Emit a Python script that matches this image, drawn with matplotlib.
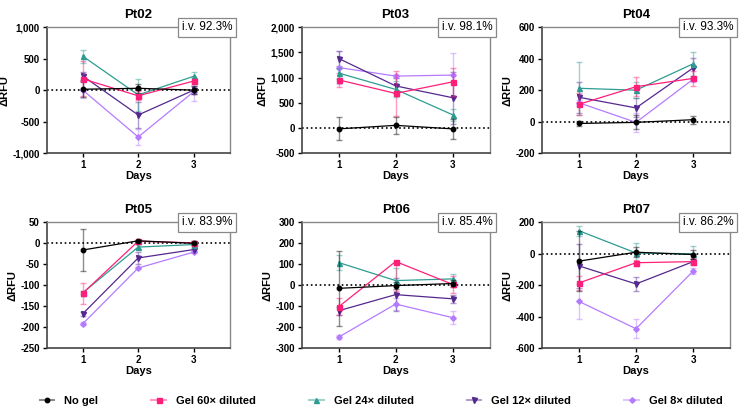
import matplotlib.pyplot as plt
from matplotlib.lines import Line2D
from matplotlib.colors import to_rgba
from matplotlib.ticker import FuncFormatter

plt.rcParams['font.family'] = ['Liberation Sans', 'DejaVu Sans']

days = [1, 2, 3]
series = ["No gel", "Gel 60× diluted", "Gel 24× diluted", "Gel 12× diluted", "Gel 8× diluted"]
colors = ["#000000", "#FF1F78", "#2E9C92", "#55288F", "#B57BFF"]
markers = ["o", "s", "^", "v", "D"]
msizes = [3.2, 3.6, 3.6, 3.6, 2.8]

panels = ["Pt02", "Pt03", "Pt04", "Pt05", "Pt06", "Pt07"]
iv_labels = ["i.v. 92.3%", "i.v. 98.1%", "i.v. 93.3%", "i.v. 83.9%", "i.v. 85.4%", "i.v. 86.2%"]

# mean values, one row per series (No gel, 60x, 24x, 12x, 8x)
pt02 = [[15, 30, 0], [180, -90, 145], [540, -75, 220], [225, -395, 0], [0, -745, -25]]
pt02_err = [[130, 70, 60], [280, 70, 50], [100, 250, 70], [60, 200, 60], [130, 130, 150]]
pt03 = [[-20, 50, -20], [955, 685, 915], [1090, 765, 260], [1380, 835, 600], [1200, 1030, 1050]]
pt03_err = [[230, 170, 200], [140, 450, 280], [110, 160, 120], [150, 150, 520], [330, 40, 440]]
pt04 = [[-12, -5, 12], [110, 222, 275], [212, 200, 368], [155, 87, 342], [120, -5, 270]]
pt04_err = [[15, 45, 25], [70, 60, 50], [170, 50, 75], [100, 60, 65], [20, 60, 20]]
pt05 = [[-16, 6, 0], [-119, 5, 1], [-118, -9, -3], [-168, -35, -15], [-192, -59, -21]]
pt05_err = [[51, 3, 5], [25, 3, 4], [4, 4, 3], [5, 15, 3], [4, 3, 3]]
pt06 = [[-15, -2, 8], [-103, 113, 4], [108, 22, 30], [-122, -45, -65], [-248, -90, -155]]
pt06_err = [[180, 15, 15], [40, 140, 40], [35, 60, 25], [20, 80, 20], [8, 30, 30]]
pt07 = [[-47, 10, -5], [-186, -57, -50], [147, 5, 0], [-77, -192, -50], [-303, -477, -110]]
pt07_err = [[190, 30, 30], [45, 20, 20], [32, 65, 50], [140, 45, 15], [110, 60, 20]]

values = [pt02, pt03, pt04, pt05, pt06, pt07]
errors = [pt02_err, pt03_err, pt04_err, pt05_err, pt06_err, pt07_err]
ylims = [(-1000, 1000), (-500, 2000), (-200, 600), (-250, 50), (-300, 300), (-600, 200)]
ysteps = [500, 500, 200, 50, 100, 200]

# axes positions in figure fractions [left, bottom, width, height]
lefts = [0.063, 0.406, 0.729]
widths = [0.246, 0.253, 0.254]
bottoms = [0.625, 0.147]
height = 0.308

fig = plt.figure(figsize=(7.43, 4.08), dpi=100)

fmt = FuncFormatter(lambda v, p: f"{v:,.0f}".replace("\u2212", "-"))

for i, name in enumerate(panels):
    r, c = divmod(i, 3)
    ax = fig.add_axes([lefts[c], bottoms[r], widths[c], height])
    ax.axhline(0, color="black", linestyle=":", linewidth=1.2, zorder=1)
    for k in range(len(series)):
        yerr = errors[i][k]
        if name == "Pt06" and k == 1:
            # lower error only on this one
            yerr = [yerr, [40, 0, 40]]
        ax.errorbar(days, values[i][k], yerr=yerr, color=colors[k],
                    ecolor=to_rgba(colors[k], 0.45), elinewidth=1, capsize=2,
                    capthick=1, linewidth=0.9, marker=markers[k],
                    markersize=msizes[k], zorder=3 + (4 - k) * 0.1)
    lo, hi = ylims[i]
    ax.set_ylim(lo, hi)
    ax.set_yticks(range(lo, hi + 1, ysteps[i]))
    ax.yaxis.set_major_formatter(fmt)
    ax.set_xlim(0.35, 3.65)
    ax.set_xticks(days)
    ax.set_title(name, fontsize=9.5, fontweight="bold", pad=7)
    ax.set_xlabel("Days", fontsize=8, fontweight="bold", labelpad=1)
    ax.set_ylabel("ΔRFU", fontsize=8, fontweight="bold", labelpad=2)
    ax.tick_params(labelsize=7, length=3, width=1, direction="out", pad=2)
    for lab in ax.get_xticklabels() + ax.get_yticklabels():
        lab.set_fontweight("bold")
    for s in ["left", "bottom"]:
        ax.spines[s].set_color("#444444")
        ax.spines[s].set_linewidth(1.2)
    for s in ["top", "right"]:
        ax.spines[s].set_color("#888888")
        ax.spines[s].set_linewidth(1.0)
    ax.text(1.016, 1.0, iv_labels[i], transform=ax.transAxes, ha="right", va="center",
            fontsize=8.5, bbox=dict(boxstyle="square,pad=0.3", fc="white", ec="#888888", lw=0.9),
            zorder=10, clip_on=False)

handles = [Line2D([0], [0], color=to_rgba(colors[k], 0.45), marker=markers[k],
                  markersize=msizes[k], markerfacecolor=colors[k],
                  markeredgecolor=colors[k], linewidth=1.5) for k in range(len(series))]
leg = fig.legend(handles, series, loc="center", bbox_to_anchor=(0.513, 0.017), ncol=5,
                 frameon=False, handlelength=1.3, columnspacing=4.8, handletextpad=0.9,
                 prop={"weight": "bold", "size": 8})

fig.savefig("out.png", dpi=100)
